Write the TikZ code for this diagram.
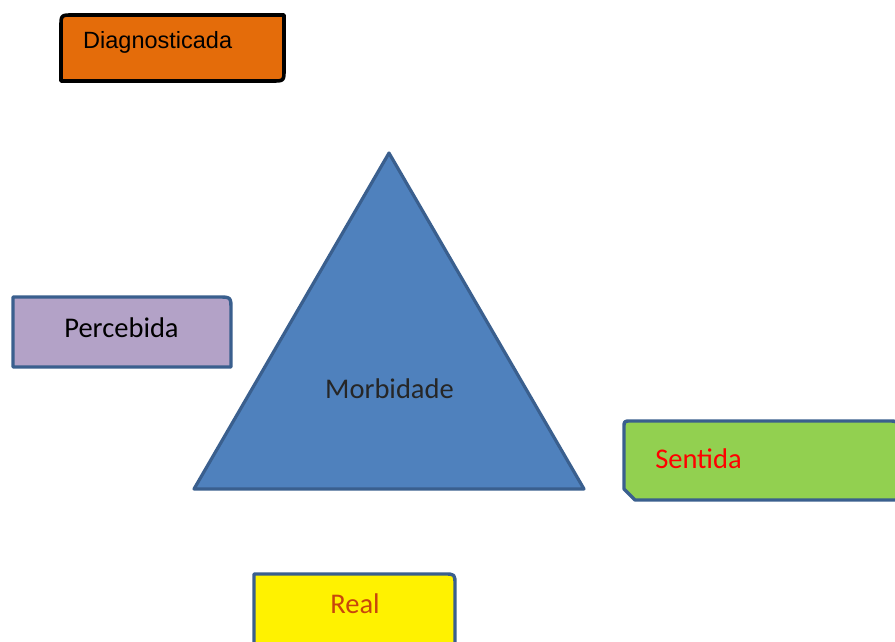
\documentclass[tikz,border=0pt]{standalone}
\usepackage{fontspec}
\setmainfont{Carlito}
\newfontfamily\arialfont{Liberation Sans}
\definecolor{orangefill}{HTML}{E46C0A}
\definecolor{lilac}{HTML}{B3A2C7}
\definecolor{lime}{HTML}{92D050}
\definecolor{trifill}{HTML}{4F81BD}
\definecolor{edgeblue}{HTML}{3A5F8E}
\definecolor{realtext}{HTML}{C8460C}
\tikzset{
  boxline/.style={line width=3.4pt, draw=edgeblue, line join=round},
  lbl/.style={inner sep=0pt, anchor=base, font=\fontsize{28.5}{30}\selectfont},
}
\begin{document}
\begin{tikzpicture}[x=1pt,y=-1pt]
\useasboundingbox (0,0) rectangle (895,642);
\clip (0,0) rectangle (895,642);
% Diagnosticada
\draw[line width=3.6pt, draw=black, fill=orangefill, line join=round]
  (61,81) -- (61,27) .. controls (61,15) .. (73,15) -- (284,15) -- (284,69)
  .. controls (284,81) .. (272,81) -- cycle;
\node[inner sep=0pt, anchor=base west, font=\arialfont\fontsize{23.5}{25}\selectfont] (tdiag) at (83,49) {Diagnosticada};
% Percebida
\draw[boxline, fill=lilac]
  (13,367) -- (13,297) -- (218,297) .. controls (231,297) .. (231,310) -- (231,367) -- cycle;
\node[lbl] (tperc) at (121.5,337) {Percebida};
% Sentida
\draw[boxline, fill=lime]
  (624,489) -- (624,428) .. controls (624,421) .. (631,421) -- (888,421)
  .. controls (898,421) .. (898,431) -- (898,500) -- (635,500) -- cycle;
\node[lbl, text=red] (tsent) at (698.5,468) {Sentida};
% Real
\draw[boxline, fill=yellow]
  (254,660) -- (254,574) -- (444,574) .. controls (455,574) .. (455,585) -- (455,660) -- cycle;
\node[lbl, text=realtext] (treal) at (355,613) {Real};
% Triangle
\draw[line width=3.2pt, draw=edgeblue, fill=trifill, line join=round]
  (389,153) -- (584,489) -- (194,489) -- cycle;
\node[lbl, text=black!85] (tmorb) at (389.5,398) {Morbidade};
\end{tikzpicture}
\end{document}
